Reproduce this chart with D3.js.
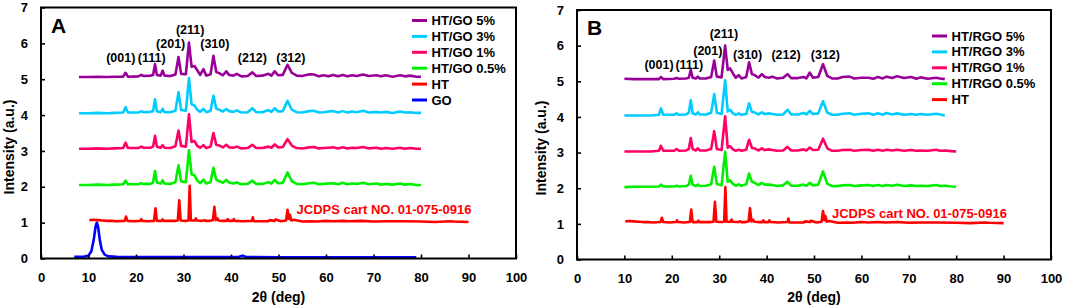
<!DOCTYPE html>
<html>
<head>
<meta charset="utf-8">
<script src="https://cdn.jsdelivr.net/npm/d3@7/dist/d3.min.js"></script>
<style>
  body { margin: 0; background: #fff; }
  svg text { font-family: "Liberation Sans", Arial, sans-serif; font-weight: bold; }
</style>
</head>
<body>
<svg id="chart" width="1065" height="308"></svg>
<script>
// ---- data (2θ in deg, intensity in a.u. incl. stacking offset) ----

// panel A: HT/GO composites share one 2θ grid
const gridA = [8, 10, 12, 14, 15.5, 17.3, 17.8, 18.3, 20.5, 21.1,
  21.6, 23.0, 23.6, 24.0, 24.4, 25.2, 25.6, 26.0, 27.2, 28.3,
  28.95, 29.5, 30.5, 31.15, 31.7, 32.3, 32.9, 33.5, 34.2, 34.8,
  35.7, 36.3, 36.9, 37.5, 38.3, 39.0, 39.6, 40.5, 41.2, 42.2,
  43.5, 44.5, 45.3, 46.6, 47.9, 48.5, 49.2, 49.9, 50.9, 51.9,
  52.8, 53.8, 55.0, 56.5, 57.5, 58.5, 59.5, 60.5, 61.5, 62.5,
  63.5, 64.5, 65.5, 66.5, 67.8, 69.0, 70.6, 71.6, 72.6, 74.0,
  75.6, 76.6, 77.7, 79.0, 80.0];
const go5 = [5.06, 5.06, 5.07, 5.06, 5.07, 5.07, 5.18, 5.07, 5.08, 5.12,
  5.09, 5.10, 5.12, 5.42, 5.12, 5.10, 5.24, 5.10, 5.09, 5.13,
  5.62, 5.15, 5.14, 6.02, 5.35, 5.37, 5.25, 5.12, 5.28, 5.10,
  5.14, 5.65, 5.20, 5.17, 5.11, 5.22, 5.12, 5.10, 5.15, 5.08,
  5.09, 5.19, 5.09, 5.10, 5.15, 5.10, 5.22, 5.11, 5.12, 5.40,
  5.18, 5.10, 5.09, 5.14, 5.13, 5.08, 5.11, 5.08, 5.12, 5.08,
  5.12, 5.08, 5.11, 5.09, 5.13, 5.09, 5.11, 5.08, 5.11, 5.07,
  5.11, 5.08, 5.10, 5.07, 5.07];
const go3 = [4.05, 4.05, 4.06, 4.05, 4.06, 4.07, 4.22, 4.07, 4.07, 4.11,
  4.08, 4.09, 4.11, 4.44, 4.11, 4.08, 4.17, 4.08, 4.08, 4.12,
  4.64, 4.14, 4.12, 5.03, 4.30, 4.27, 4.15, 4.09, 4.17, 4.08,
  4.12, 4.54, 4.18, 4.15, 4.10, 4.17, 4.11, 4.09, 4.13, 4.07,
  4.08, 4.19, 4.08, 4.08, 4.14, 4.09, 4.19, 4.10, 4.11, 4.40,
  4.15, 4.08, 4.07, 4.11, 4.12, 4.07, 4.08, 4.10, 4.11, 4.07,
  4.11, 4.07, 4.10, 4.08, 4.12, 4.07, 4.09, 4.07, 4.09, 4.06,
  4.10, 4.07, 4.08, 4.06, 4.06];
const go1 = [3.06, 3.06, 3.07, 3.06, 3.07, 3.08, 3.23, 3.08, 3.08, 3.12,
  3.09, 3.09, 3.12, 3.42, 3.12, 3.09, 3.16, 3.09, 3.08, 3.13,
  3.57, 3.14, 3.12, 4.02, 3.25, 3.28, 3.14, 3.09, 3.16, 3.08,
  3.12, 3.50, 3.17, 3.15, 3.10, 3.17, 3.10, 3.09, 3.12, 3.07,
  3.08, 3.17, 3.08, 3.08, 3.12, 3.09, 3.18, 3.10, 3.11, 3.33,
  3.15, 3.08, 3.07, 3.10, 3.11, 3.07, 3.08, 3.09, 3.10, 3.07,
  3.10, 3.07, 3.09, 3.08, 3.11, 3.07, 3.09, 3.06, 3.08, 3.06,
  3.09, 3.06, 3.08, 3.06, 3.06];
const go05 = [2.05, 2.05, 2.06, 2.05, 2.06, 2.07, 2.17, 2.07, 2.07, 2.10,
  2.08, 2.08, 2.12, 2.44, 2.12, 2.09, 2.18, 2.09, 2.08, 2.13,
  2.60, 2.15, 2.13, 3.02, 2.35, 2.32, 2.18, 2.10, 2.20, 2.09,
  2.13, 2.53, 2.20, 2.16, 2.11, 2.19, 2.12, 2.09, 2.12, 2.07,
  2.08, 2.17, 2.08, 2.08, 2.13, 2.09, 2.19, 2.10, 2.11, 2.40,
  2.16, 2.08, 2.07, 2.10, 2.11, 2.07, 2.08, 2.09, 2.10, 2.07,
  2.11, 2.07, 2.09, 2.08, 2.11, 2.07, 2.09, 2.06, 2.08, 2.06,
  2.09, 2.06, 2.08, 2.05, 2.05];

// pure HT (JCPDS reference shown in both panels)
const htTheta = [10.2, 11, 12, 13, 14, 15, 16, 17.6, 17.9, 18.2,
  19.5, 20.9, 21.1, 21.3, 22.5, 23.8, 24.1, 24.4, 25.4, 25.6,
  25.8, 27, 28.2, 28.8, 29.1, 29.4, 30.5, 31.05, 31.3, 31.55,
  32.4, 32.6, 32.8, 34, 34.4, 34.6, 35.5, 36.2, 36.5, 36.8,
  37.1, 37.4, 38.2, 39.1, 39.3, 39.5, 40.4, 40.6, 40.8, 42.5,
  44.4, 44.6, 44.8, 46.5, 47.9, 48.1, 49.2, 49.4, 50.5, 51.6,
  51.9, 52.2, 52.4, 52.7, 53.2, 55, 57, 58, 60, 61.5,
  63.5, 65, 67.5, 70, 72.5, 76, 80, 83, 86, 87,
  90];
const htValues = [1.07, 1.08, 1.07, 1.06, 1.05, 1.05, 1.04, 1.05, 1.17, 1.05,
  1.04, 1.05, 1.10, 1.05, 1.04, 1.05, 1.40, 1.05, 1.05, 1.09,
  1.05, 1.05, 1.05, 1.06, 1.62, 1.06, 1.05, 1.06, 2.03, 1.06,
  1.06, 1.12, 1.06, 1.05, 1.07, 1.05, 1.05, 1.07, 1.44, 1.07,
  1.12, 1.06, 1.05, 1.05, 1.10, 1.05, 1.05, 1.10, 1.05, 1.04,
  1.05, 1.15, 1.04, 1.04, 1.04, 1.07, 1.05, 1.09, 1.04, 1.06,
  1.36, 1.10, 1.22, 1.06, 1.08, 1.03, 1.04, 1.03, 1.05, 1.04,
  1.05, 1.04, 1.05, 1.03, 1.04, 1.04, 1.03, 1.02, 1.04, 1.03,
  1.02];

// graphene oxide
const goTheta = [7, 8, 9, 10, 10.6, 11.1, 11.5, 11.75, 12.0, 12.4,
  12.8, 13.4, 14.2, 16, 20, 25, 30, 35, 41.6, 42.4,
  43.2, 50, 60, 70, 79];
const goValues = [0.05, 0.05, 0.05, 0.08, 0.20, 0.52, 0.90, 1.00, 0.90, 0.50,
  0.24, 0.11, 0.06, 0.05, 0.04, 0.04, 0.04, 0.04, 0.04, 0.08,
  0.04, 0.03, 0.03, 0.03, 0.03];

// panel B: HT/RGO composites share one 2θ grid (5% and 3% stop near 77.6)
const gridB = [10, 12, 14, 15.5, 17.3, 17.7, 18.2, 20.5, 21.0, 21.5,
  23.0, 23.6, 24.0, 24.4, 25.1, 25.5, 25.9, 27.2, 28.3, 28.95,
  29.5, 30.5, 31.25, 31.8, 32.3, 32.9, 33.5, 34.1, 34.7, 35.7,
  36.3, 36.9, 37.4, 38.3, 39.0, 39.6, 40.5, 41.2, 42.2, 43.5,
  44.4, 45.2, 46.6, 47.8, 48.4, 49.1, 49.8, 50.9, 51.9, 52.8,
  53.8, 55.0, 56.0, 57.5, 58.5, 60.0, 61.5, 62.5, 63.5, 64.5,
  65.3, 66.5, 67.5, 69.0, 70.5, 71.6, 72.5, 74.0, 75.8, 76.6,
  77.6, 79.0, 80.0];
const rgo5 = [5.07, 5.06, 5.06, 5.06, 5.06, 5.12, 5.06, 5.07, 5.09, 5.07,
  5.08, 5.10, 5.32, 5.10, 5.08, 5.13, 5.08, 5.08, 5.12, 5.58,
  5.13, 5.11, 6.00, 5.32, 5.36, 5.22, 5.10, 5.17, 5.08, 5.12,
  5.53, 5.20, 5.18, 5.10, 5.20, 5.12, 5.10, 5.13, 5.08, 5.10,
  5.20, 5.09, 5.09, 5.12, 5.08, 5.24, 5.10, 5.12, 5.48, 5.15,
  5.08, 5.08, 5.12, 5.13, 5.08, 5.10, 5.10, 5.07, 5.12, 5.08,
  5.13, 5.09, 5.14, 5.09, 5.12, 5.07, 5.11, 5.07, 5.10, 5.08,
  5.06];
const rgo3 = [4.04, 4.04, 4.04, 4.04, 4.06, 4.24, 4.06, 4.06, 4.10, 4.06,
  4.07, 4.12, 4.47, 4.10, 4.07, 4.13, 4.07, 4.07, 4.12, 4.64,
  4.12, 4.08, 5.03, 4.15, 4.20, 4.10, 4.06, 4.10, 4.06, 4.08,
  4.38, 4.14, 4.13, 4.07, 4.13, 4.08, 4.10, 4.08, 4.06, 4.07,
  4.20, 4.07, 4.07, 4.11, 4.07, 4.17, 4.08, 4.10, 4.44, 4.12,
  4.06, 4.06, 4.09, 4.10, 4.06, 4.09, 4.10, 4.06, 4.10, 4.06,
  4.11, 4.07, 4.10, 4.06, 4.08, 4.06, 4.08, 4.06, 4.09, 4.07,
  4.04];
const rgo1 = [3.03, 3.03, 3.03, 3.03, 3.05, 3.19, 3.05, 3.05, 3.10, 3.05,
  3.06, 3.10, 3.41, 3.10, 3.06, 3.12, 3.06, 3.06, 3.10, 3.60,
  3.10, 3.07, 4.02, 3.14, 3.18, 3.09, 3.05, 3.08, 3.05, 3.08,
  3.36, 3.13, 3.12, 3.06, 3.12, 3.07, 3.09, 3.07, 3.05, 3.06,
  3.16, 3.06, 3.06, 3.09, 3.06, 3.14, 3.07, 3.08, 3.39, 3.12,
  3.05, 3.05, 3.07, 3.08, 3.05, 3.07, 3.08, 3.05, 3.08, 3.05,
  3.08, 3.06, 3.08, 3.05, 3.07, 3.05, 3.06, 3.05, 3.08, 3.05,
  3.06, 3.04, 3.03];
const rgo05 = [2.03, 2.04, 2.04, 2.04, 2.05, 2.10, 2.05, 2.05, 2.07, 2.05,
  2.06, 2.10, 2.35, 2.10, 2.06, 2.10, 2.06, 2.07, 2.11, 2.60,
  2.12, 2.08, 3.02, 2.18, 2.22, 2.12, 2.07, 2.11, 2.07, 2.11,
  2.41, 2.18, 2.16, 2.09, 2.15, 2.10, 2.10, 2.09, 2.06, 2.08,
  2.18, 2.07, 2.07, 2.10, 2.07, 2.15, 2.08, 2.10, 2.47, 2.13,
  2.06, 2.06, 2.08, 2.09, 2.06, 2.08, 2.09, 2.06, 2.09, 2.06,
  2.09, 2.07, 2.10, 2.06, 2.08, 2.06, 2.07, 2.06, 2.09, 2.06,
  2.07, 2.05, 2.04];

// reflection labels (hkl) and where they sit, in data units
const hklLabels = ['(001)', '(111)', '(201)', '(211)', '(310)', '(212)', '(312)'];
const hklThetaA = [16.8, 23.3, 27.3, 31.4, 36.6, 44.5, 52.6];
const hklLevelA = [5.61, 5.61, 5.98, 6.38, 5.98, 5.61, 5.61];
const hklThetaB = [17.3, 23.7, 27.6, 31.0, 36.0, 44.1, 52.4];
const hklLevelB = [5.48, 5.48, 5.85, 6.33, 5.74, 5.74, 5.74];

const xTicks = d3.range(0, 101, 10);
const yTicks = d3.range(0, 8, 1);
const jcpdsText = 'JCDPS cart NO. 01-075-0916';

const colors = {
  p5: '#990099', p3: '#00CCFF', p1: '#FF0066', p05: '#00EE00', ht: '#FF0000', go: '#0000FF'
};

/**
 * the two panels, their plot boxes and what goes in them
 */
const panels = [
  {
    letter: 'A',
    box: {left: 41, right: 516, top: 7.5, bottom: 258.5},
    legend: {x: 412, y: 20.5},
    yTitleAt: [9, 147],
    hklTheta: hklThetaA, hklLevel: hklLevelA,
    jcpdsAt: [53.8, 1.38],
    series: [
      {name: 'HT/GO 5%', color: colors.p5, theta: gridA, values: go5},
      {name: 'HT/GO 3%', color: colors.p3, theta: gridA, values: go3},
      {name: 'HT/GO 1%', color: colors.p1, theta: gridA, values: go1},
      {name: 'HT/GO 0.5%', color: colors.p05, theta: gridA, values: go05},
      {name: 'HT', color: colors.ht, theta: htTheta, values: htValues},
      {name: 'GO', color: colors.go, theta: goTheta, values: goValues}
    ]
  },
  {
    letter: 'B',
    box: {left: 577, right: 1051, top: 10, bottom: 259.5},
    legend: {x: 932, y: 36},
    yTitleAt: [541, 148],
    hklTheta: hklThetaB, hklLevel: hklLevelB,
    jcpdsAt: [53.8, 1.28],
    series: [
      {name: 'HT/RGO 5%', color: colors.p5, theta: gridB, values: rgo5},
      {name: 'HT/RGO 3%', color: colors.p3, theta: gridB, values: rgo3},
      {name: 'HT/RGO 1%', color: colors.p1, theta: gridB, values: rgo1},
      {name: 'HT/RGO 0.5%', color: colors.p05, theta: gridB, values: rgo05},
      {name: 'HT', color: colors.ht, theta: htTheta, values: htValues}
    ]
  }
];

const svg = d3.select('#chart');

/**
 * draw one panel: frame, axes, traces, legend and annotations
 */
function drawPanel(p) {
  const box = p.box;
  const x = d3.scaleLinear().domain([0, 100]).range([box.left, box.right]);
  const y = d3.scaleLinear().domain([0, 7]).range([box.bottom, box.top]);
  const g = svg.append('g').attr('class', 'panel-' + p.letter);

  // traces, bottom one first
  const line = d3.line()
    .x(d => x(d[0]))
    .y(d => y(d[1]));
  g.append('g').selectAll('path')
    .data(p.series.slice().reverse())
    .enter()
    .append('path')
    .attr('d', s => line(d3.zip(s.theta, s.values)))
    .attr('fill', 'none')
    .attr('stroke', s => s.color)
    .attr('stroke-width', 2.6)
    .attr('stroke-linejoin', 'round');

  // axes with inward ticks
  const xAxis = g.append('g')
    .attr('transform', `translate(0,${box.bottom})`)
    .call(d3.axisBottom(x).tickValues(xTicks).tickFormat(d3.format('d'))
      .tickSizeInner(-4).tickSizeOuter(0).tickPadding(14));
  const yAxis = g.append('g')
    .attr('transform', `translate(${box.left},0)`)
    .call(d3.axisLeft(y).tickValues(yTicks).tickFormat(d3.format('d'))
      .tickSizeInner(-4).tickSizeOuter(0).tickPadding(13));
  for (const ax of [xAxis, yAxis]) {
    ax.select('.domain').remove();
    ax.selectAll('.tick line').attr('stroke', '#000').attr('stroke-width', 1.6);
    ax.selectAll('.tick text')
      .attr('fill', '#000')
      .style('font-size', '13px')
      .style('font-family', '"Liberation Sans", Arial, sans-serif')
      .style('font-weight', 'bold');
  }

  // frame
  g.append('rect')
    .attr('x', box.left).attr('y', box.top)
    .attr('width', box.right - box.left).attr('height', box.bottom - box.top)
    .attr('fill', 'none').attr('stroke', '#000').attr('stroke-width', 2);

  // axis titles
  g.append('text')
    .attr('x', (box.left + box.right) / 2).attr('y', 302)
    .attr('text-anchor', 'middle').style('font-size', '14px')
    .text('2θ (deg)');
  g.append('text')
    .attr('transform', `translate(${p.yTitleAt[0]},${p.yTitleAt[1]}) rotate(-90)`)
    .attr('text-anchor', 'middle').attr('dy', '0.35em').style('font-size', '14px')
    .text('Intensity (a.u.)');

  // panel letter
  g.append('text')
    .attr('x', box.left + 10).attr('y', box.top + 25)
    .style('font-size', '21px')
    .text(p.letter);

  // hkl labels
  g.append('g').selectAll('text')
    .data(hklLabels)
    .enter()
    .append('text')
    .attr('x', (d, i) => x(p.hklTheta[i]))
    .attr('y', (d, i) => y(p.hklLevel[i]))
    .attr('dy', '0.35em')
    .attr('text-anchor', 'middle')
    .style('font-size', '12.5px')
    .text(d => d);

  // JCPDS card note
  g.append('text')
    .attr('x', x(p.jcpdsAt[0])).attr('y', y(p.jcpdsAt[1]))
    .attr('dy', '0.35em')
    .attr('fill', colors.ht)
    .style('font-size', '13px')
    .text(jcpdsText);

  // legend
  const legend = g.append('g')
    .attr('transform', `translate(${p.legend.x},${p.legend.y})`);
  const rows = legend.selectAll('g')
    .data(p.series)
    .enter()
    .append('g')
    .attr('transform', (d, i) => `translate(0,${i * 15.9})`);
  rows.append('line')
    .attr('x1', 0).attr('x2', 15)
    .attr('stroke', d => d.color).attr('stroke-width', 3);
  rows.append('text')
    .attr('x', 19.5).attr('dy', '0.35em')
    .style('font-size', '13px')
    .text(d => d.name);
}

panels.forEach(drawPanel);
</script>
</body>
</html>
